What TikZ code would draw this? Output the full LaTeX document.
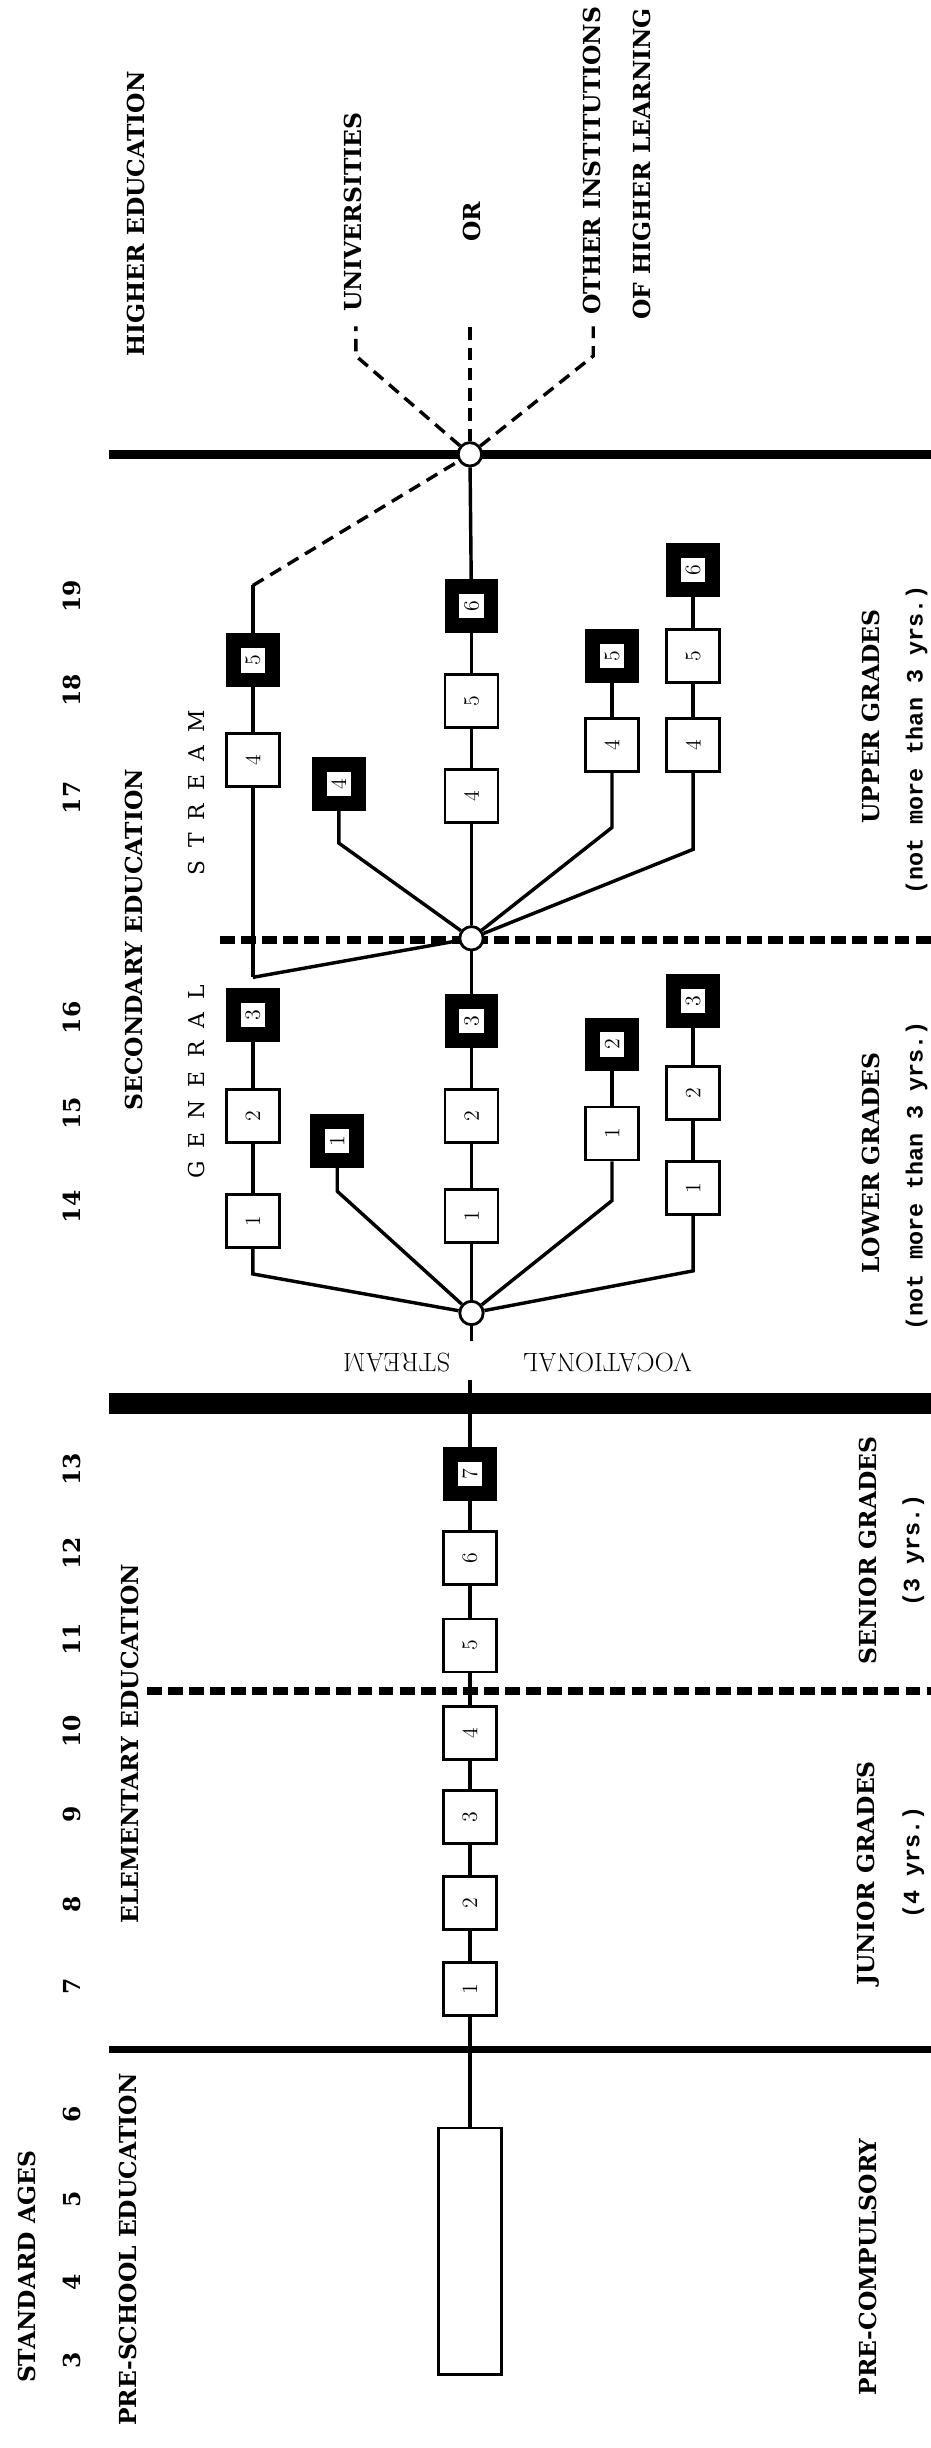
\documentclass[tikz,border=0pt]{standalone}
\usepackage{fontspec}
\newfontfamily\typebold{Liberation Mono}
\newfontfamily\labfont{DejaVu Serif}
\newcommand{\sgap}{\hspace{0.6em}}
\tikzset{
  gradebox/.style={draw, fill=white, line width=1.8pt, minimum size=34pt, inner sep=0pt, rotate=90, font=\fontsize{14}{16}\selectfont},
  endbox/.style={gradebox, line width=9.5pt, minimum size=25pt},
  junction/.style={circle, draw, fill=white, line width=1.8pt, minimum size=15pt, inner sep=0pt},
  lab/.style={rotate=90, inner sep=0pt, font=\labfont\bfseries\fontsize{15}{18}\selectfont},
  note/.style={rotate=90, inner sep=0pt, font=\typebold\bfseries\fontsize{15}{18}\selectfont},
  divdash/.style={line width=5pt, dash pattern=on 9.5pt off 4pt},
  linkdash/.style={line width=2.2pt, dash pattern=on 8pt off 5pt},
}
\begin{document}
\begin{tikzpicture}[x=1pt, y=-1pt, line width=2.2pt, every edge/.style={draw, line width=2.2pt}]
\useasboundingbox (0,0) rectangle (596,1568);
% level lines
\draw[line width=4.5pt] (70,1313) -- (596,1313);
\draw[divdash] (94,1083) -- (596,1083);
\draw[line width=13.5pt] (70,899) -- (596,899);
\draw[divdash] (141,602) -- (596,602);
\draw[line width=5.5pt] (70,291) -- (596,291);
% pre-school and elementary
\node[draw, line width=1.8pt, minimum width=40pt, minimum height=158pt] (pre) at (301,1442) {};
\node[gradebox] (e1) at (301,1274) {1} edge (pre);
\node[gradebox] (e2) at (301,1219) {2} edge (e1);
\node[gradebox] (e3) at (301,1164) {3} edge (e2);
\node[gradebox] (e4) at (301,1110) {4} edge (e3);
\node[gradebox] (e5) at (301,1054) {5} edge (e4);
\node[gradebox] (e6) at (301,998) {6} edge (e5);
\node[endbox] (e7) at (301,944) {7} edge (e6);
\coordinate (ax1) at (301,884);
\draw (e7) -- (ax1);
% lower grades
\node[junction] (cvoc) at (302,841) {};
\coordinate (ax2) at (302,859);
\draw (cvoc) -- (ax2);
\node[gradebox] (g1) at (162,782) {1};
\node[gradebox] (g2) at (162,715) {2} edge (g1);
\node[endbox] (g3) at (162,650) {3} edge (g2);
\coordinate (gb) at (162,816);
\draw (g1) -- (gb) -- (cvoc);
\node[endbox] (a1) at (216,731) {1};
\coordinate (ab) at (216,763);
\draw (a1) -- (ab) -- (cvoc);
\node[gradebox] (m1) at (302,779) {1} edge (cvoc);
\node[gradebox] (m2) at (302,715) {2} edge (m1);
\node[endbox] (m3) at (302,654) {3} edge (m2);
\node[gradebox] (c1) at (392,726) {1};
\node[endbox] (c2) at (392,669) {2} edge (c1);
\coordinate (cb) at (392,769);
\draw (c1) -- (cb) -- (cvoc);
\node[gradebox] (d1) at (444,761) {1};
\node[gradebox] (d2) at (444,700) {2} edge (d1);
\node[endbox] (d3) at (444,641) {3} edge (d2);
\coordinate (db) at (444,814);
\draw (d1) -- (db) -- (cvoc);
% upper grades
\node[junction] (csec) at (302,601) {} edge (m3);
\coordinate (gj) at (162,626);
\draw (gj) -- (csec);
\node[gradebox] (g4) at (162,487) {4} edge (gj);
\node[endbox] (g5) at (162,423) {5} edge (g4);
\coordinate (gt) at (162,375);
\draw (g5) -- (gt);
\node[endbox] (a4) at (217,502) {4};
\coordinate (at) at (217,540);
\draw (a4) -- (at) -- (csec);
\node[gradebox] (m4) at (302,510) {4} edge (csec);
\node[gradebox] (m5) at (302,449) {5} edge (m4);
\node[endbox] (m6) at (302,388) {6} edge (m5);
\node[gradebox] (c4) at (392,477) {4};
\node[endbox] (c5) at (392,420) {5} edge (c4);
\coordinate (ct) at (392,530);
\draw (c4) -- (ct) -- (csec);
\node[gradebox] (d4) at (444,477) {4};
\node[gradebox] (d5) at (444,420) {5} edge (d4);
\node[endbox] (d6) at (444,365) {6} edge (d5);
\coordinate (dt) at (444,544);
\draw (d4) -- (dt) -- (csec);
% higher education
\node[junction] (ctop) at (301,291) {} edge (m6);
\draw[linkdash] (gt) -- (ctop);
\coordinate (unib) at (228,228);
\coordinate (unie) at (228,209);
\coordinate (ore) at (301,208);
\coordinate (othb) at (380,228);
\coordinate (othe) at (380,209);
\draw[linkdash] (ctop) -- (unib) -- (unie);
\draw[linkdash] (ctop) -- (ore);
\draw[linkdash] (ctop) -- (othb) -- (othe);
% ages
\node[lab] (agehead) at (17,1452) {STANDARD AGES};
\foreach \a/\y in {3/1512, 4/1462, 5/1409, 6/1354, 7/1272, 8/1220, 9/1162, 10/1109, 11/1050,
  12/995, 13/941, 14/773, 15/713, 16/652, 17/511, 18/442, 19/382}
  \node[lab] (age\a) at (46,\y) {\a};
% levels
\node[lab] (preschool) at (82,1441) {PRE-SCHOOL EDUCATION};
\node[lab] (elementary) at (83,1117) {ELEMENTARY EDUCATION};
\node[lab] (secondary) at (86,602) {SECONDARY EDUCATION};
\node[lab] (higher) at (87,137) {HIGHER EDUCATION};
\node[lab, font=\labfont\fontsize{14}{17}\selectfont] (general) at (126,693) {G\sgap E\sgap N\sgap E\sgap R\sgap A\sgap L};
\node[lab, font=\labfont\fontsize{14}{17}\selectfont] (genstream) at (126,508) {S\sgap T\sgap R\sgap E\sgap A\sgap M};
\node[lab] (uni) at (226,136) {UNIVERSITIES};
\node[lab] (or) at (302,142) {OR};
\node[lab] (other) at (379,103) {OTHER INSTITUTIONS};
\node[lab] (learning) at (411,105) {OF HIGHER LEARNING};
\node[rotate=180, inner sep=0pt, font=\fontsize{17}{20}\selectfont] (voc) at (389,873) {VOCATIONAL};
\node[rotate=180, inner sep=0pt, font=\fontsize{17}{20}\selectfont] (vocstream) at (254,873) {STREAM};
% grades
\node[lab] (precomp) at (556,1452) {PRE-COMPULSORY};
\node[lab] (junior) at (556,1200) {JUNIOR GRADES};
\node[note] (juniorn) at (585,1193) {(4 yrs.)};
\node[lab] (senior) at (556,993) {SENIOR GRADES};
\node[note] (seniorn) at (585,993) {(3 yrs.)};
\node[lab] (lower) at (558,745) {LOWER GRADES};
\node[note] (lowern) at (587,753) {(not more than 3 yrs.)};
\node[lab] (upper) at (558,459) {UPPER GRADES};
\node[note] (uppern) at (587,474) {(not more than 3 yrs.)};
\end{tikzpicture}
\end{document}
